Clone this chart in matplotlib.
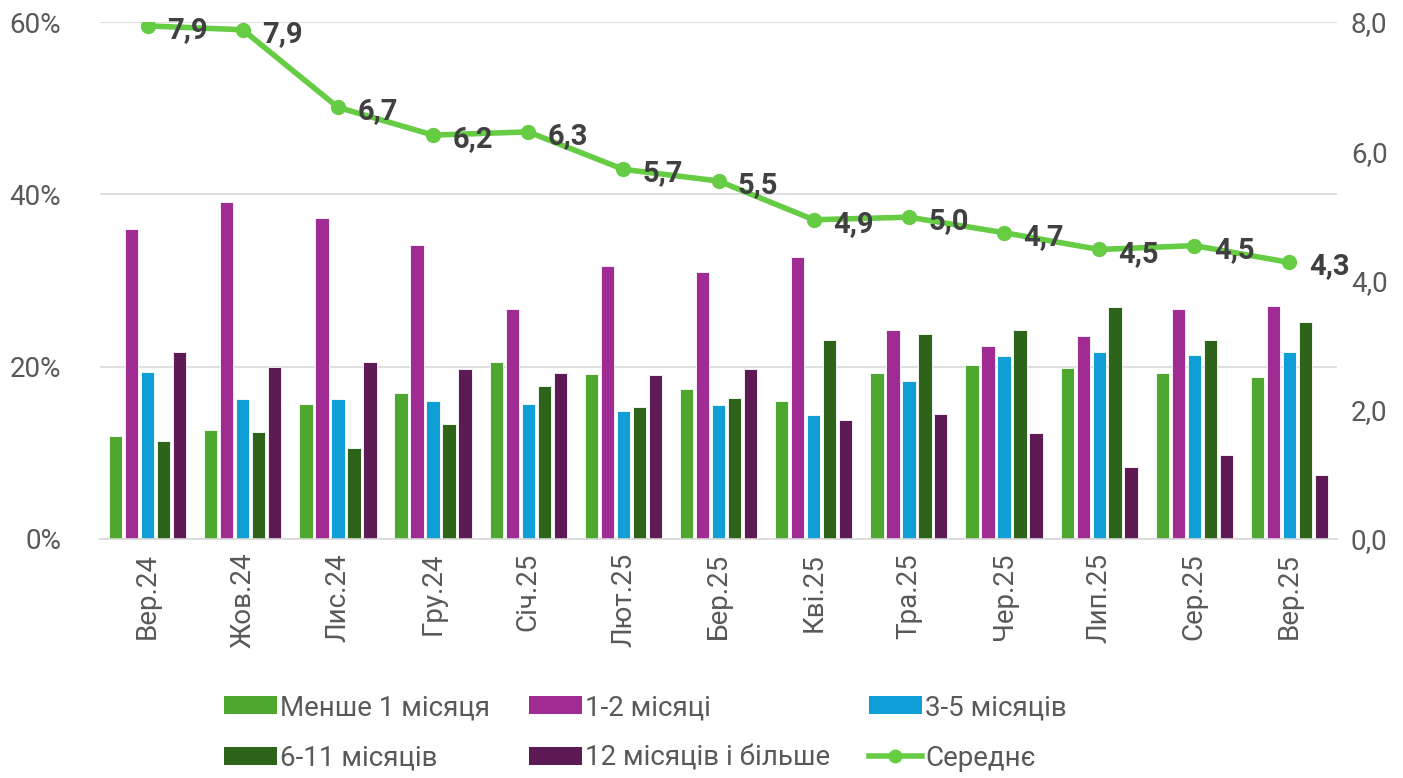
import numpy as np
import matplotlib
matplotlib.use('Agg')
from matplotlib import pyplot as plt
from matplotlib.patches import Patch
from matplotlib.lines import Line2D

plt.rcParams['font.family'] = ['Roboto', 'DejaVu Sans']

months = ['Вер.24', 'Жов.24', 'Лис.24', 'Гру.24', 'Січ.25', 'Лют.25', 'Бер.25',
          'Кві.25', 'Тра.25', 'Чер.25', 'Лип.25', 'Сер.25', 'Вер.25']

less_1 = [11.9, 12.6, 15.7, 17.0, 20.5, 19.2, 17.4, 16.0, 19.3, 20.2, 19.8, 19.3, 18.8]
m1_2 = [36.0, 39.1, 37.3, 34.1, 26.7, 31.7, 31.0, 32.7, 24.3, 22.4, 23.6, 26.7, 27.0]
m3_5 = [19.4, 16.3, 16.2, 16.0, 15.7, 14.8, 15.6, 14.4, 18.3, 21.2, 21.7, 21.3, 21.7]
m6_11 = [11.4, 12.4, 10.6, 13.4, 17.8, 15.3, 16.4, 23.1, 23.8, 24.2, 26.9, 23.1, 25.2]
m12_plus = [21.7, 20.0, 20.5, 19.7, 19.3, 19.0, 19.7, 13.8, 14.5, 12.3, 8.4, 9.8, 7.4]
average = [7.94, 7.88, 6.68, 6.25, 6.3, 5.72, 5.54, 4.94, 4.98, 4.74, 4.48, 4.54, 4.28]

series = [
    ('Менше 1 місяця', less_1, '#4EA72E'),
    ('1-2 місяці', m1_2, '#A02B93'),
    ('3-5 місяців', m3_5, '#0F9ED5'),
    ('6-11 місяців', m6_11, '#2E6419'),
    ('12 місяців і більше', m12_plus, '#5E1A55'),
]
line_color = '#66CC44'
text_gray = '#595959'

fig = plt.figure(figsize=(14.03, 7.78), dpi=100)
ax = fig.add_axes([0.0713, 0.3072, 0.8817, 0.6645])
ax2 = ax.twinx()

x = np.arange(len(months))
w = 0.14
step = 0.168
for i, (name, vals, col) in enumerate(series):
    ax.bar(x + (i - 2) * step, vals, width=w, color=col, edgecolor='white', linewidth=0.6, zorder=2)

ax.set_xlim(-0.5, len(months) - 0.5)
ax.set_ylim(0, 60)
ax.set_yticks([0, 20, 40, 60])
ax.set_yticklabels(['0%', '20%', '40%', '60%'])
ax.yaxis.grid(True, color='#d9d9d9', linewidth=1.2, zorder=0)
ax.set_axisbelow(True)
ax.set_xticks(x)
ax.set_xticklabels(months, rotation=90)
ax.tick_params(axis='both', length=0, labelsize=20, colors=text_gray)
ax.tick_params(axis='y', pad=28)
ax.tick_params(axis='x', pad=10)
for s in ['top', 'right', 'left']:
    ax.spines[s].set_visible(False)
ax.spines['bottom'].set_color('#d9d9d9')
ax.spines['bottom'].set_linewidth(1.2)

ax2.plot(x, average, color=line_color, linewidth=4, marker='o', markersize=10, zorder=5)
ax2.set_ylim(0, 8)
ax2.set_yticks([0, 2, 4, 6, 8])
ax2.set_yticklabels(['0,0', '2,0', '4,0', '6,0', '8,0'])
ax2.tick_params(axis='y', length=0, labelsize=20, colors=text_gray, pad=10)
for s in ['top', 'right', 'left', 'bottom']:
    ax2.spines[s].set_visible(False)

for xi, v in zip(x, average):
    ax2.annotate(f'{v:.1f}'.replace('.', ','), (xi, v), xytext=(14, -3),
                 textcoords='offset points', ha='left', va='center',
                 fontsize=21, fontweight='bold', color='#404040', zorder=6)

handles = [Patch(facecolor=c, edgecolor='none') for _, _, c in series]
handles.append(Line2D([0], [0], color=line_color, linewidth=4, marker='o', markersize=9))
labels = [n for n, _, _ in series] + ['Середнє']
order = [0, 3, 1, 4, 2, 5]
leg = fig.legend([handles[i] for i in order], [labels[i] for i in order],
                 loc='center', bbox_to_anchor=(0.46, 0.058), ncol=3, frameon=False,
                 fontsize=20, handlelength=1.9, handleheight=0.6, handletextpad=0.12,
                 columnspacing=1.4, labelspacing=0.85, borderpad=0.2)
for t in leg.get_texts():
    t.set_color(text_gray)

fig.savefig('out.png', dpi=100)
